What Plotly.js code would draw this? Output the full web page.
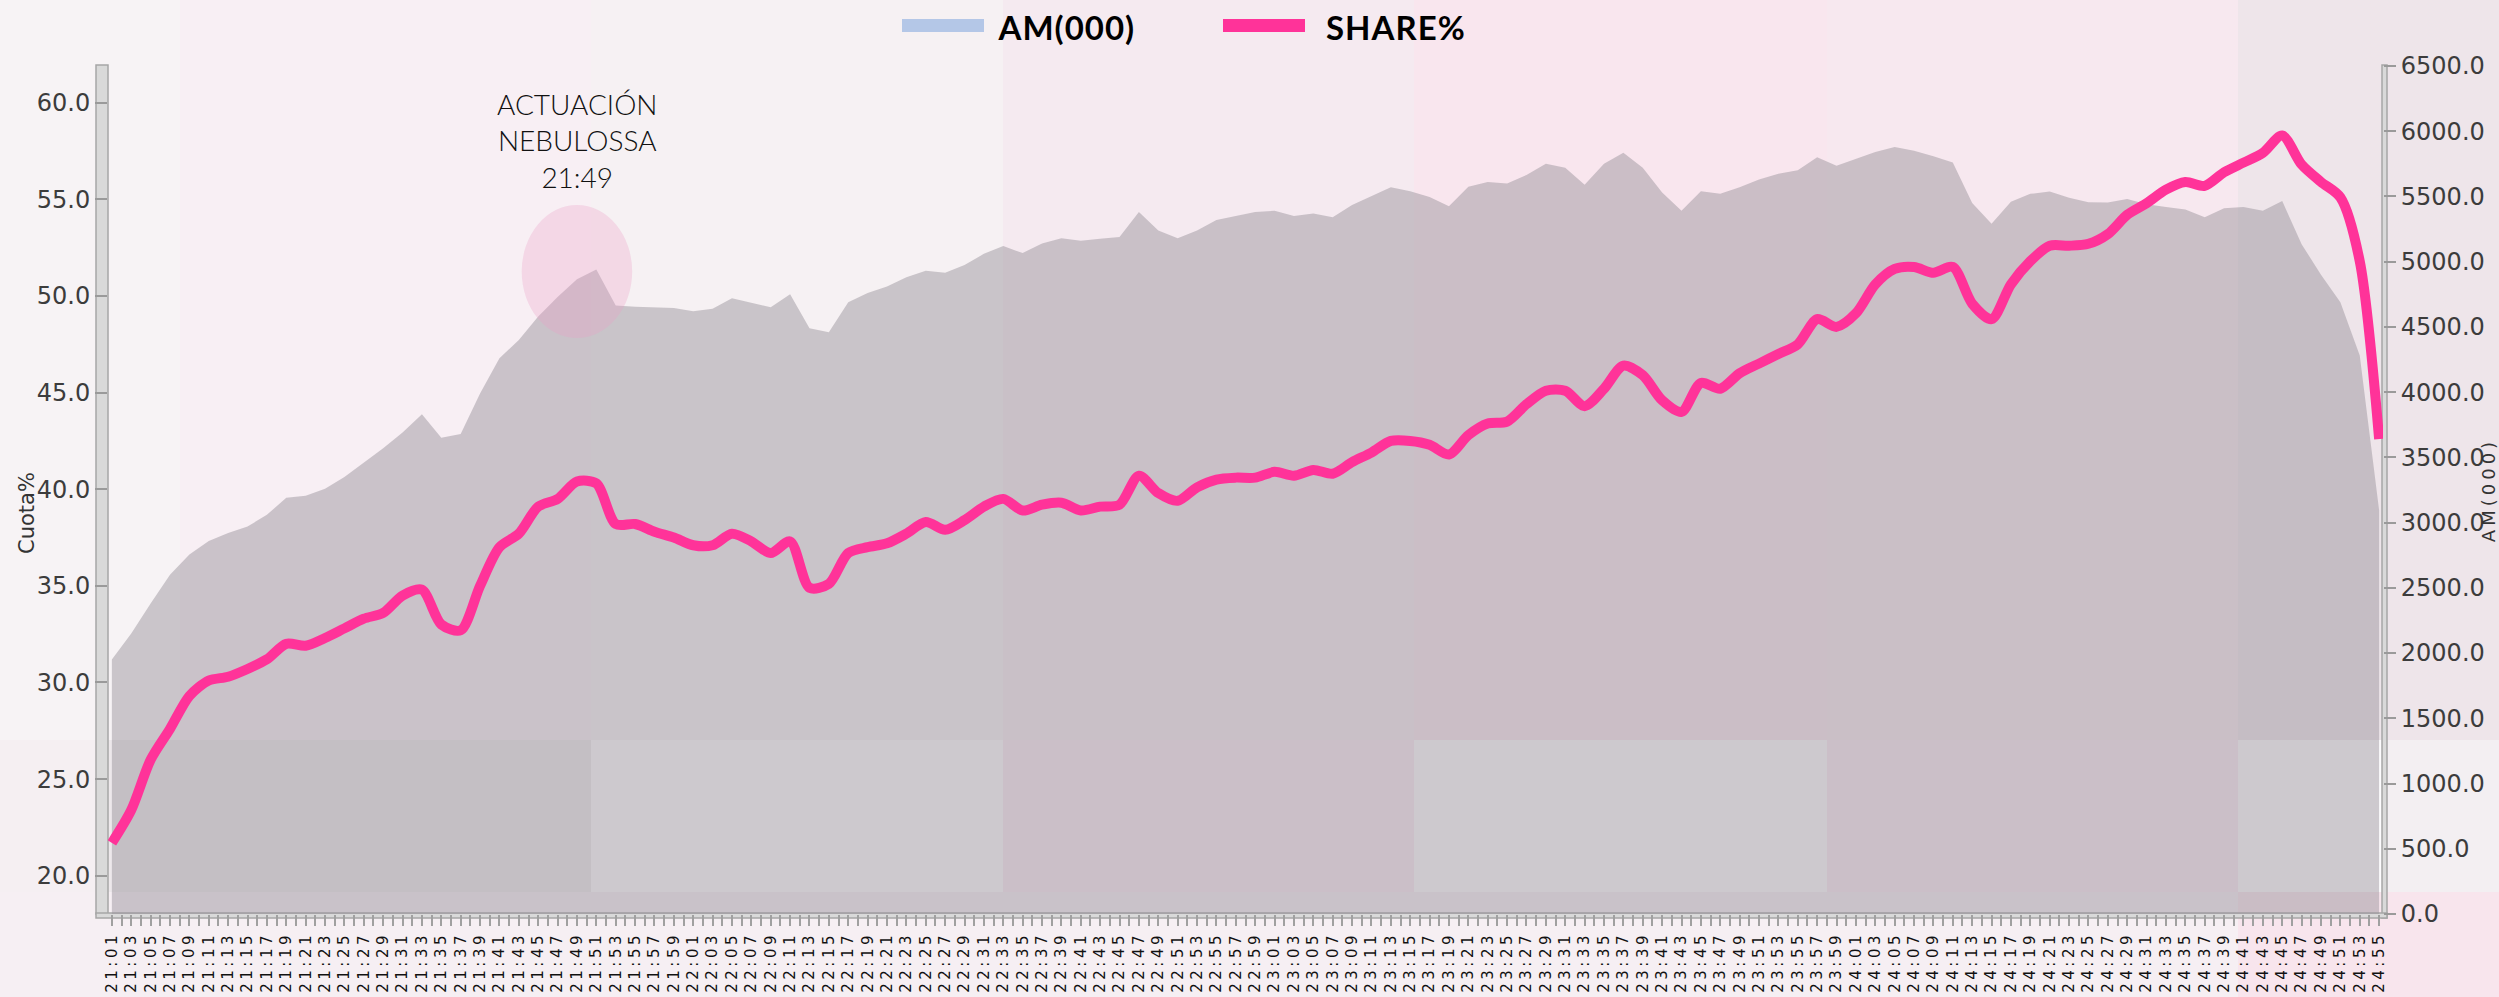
<!DOCTYPE html>
<html>
<head>
<meta charset="utf-8">
<script src="https://cdn.plot.ly/plotly-3.0.1.min.js"></script>
<style>
html,body{margin:0;padding:0;background:#f6eef2;overflow:hidden;}
#chart{width:2499px;height:997px;}
.xtick text{letter-spacing:3.5px;}
.g-ytitle text{letter-spacing:4px;}
.annotation[data-index="1"] text,.annotation[data-index="2"] text{letter-spacing:1px;}
</style>
</head>
<body>
<div id="chart"></div>
<script>
// ---- data ----
const times = [
'21:01','21:03','21:05','21:07','21:09','21:11','21:13','21:15','21:17','21:19','21:21','21:23','21:25','21:27','21:29',
'21:31','21:33','21:35','21:37','21:39','21:41','21:43','21:45','21:47','21:49','21:51','21:53','21:55','21:57','21:59',
'22:01','22:03','22:05','22:07','22:09','22:11','22:13','22:15','22:17','22:19','22:21','22:23','22:25','22:27','22:29',
'22:31','22:33','22:35','22:37','22:39','22:41','22:43','22:45','22:47','22:49','22:51','22:53','22:55','22:57','22:59',
'23:01','23:03','23:05','23:07','23:09','23:11','23:13','23:15','23:17','23:19','23:21','23:23','23:25','23:27','23:29',
'23:31','23:33','23:35','23:37','23:39','23:41','23:43','23:45','23:47','23:49','23:51','23:53','23:55','23:57','23:59',
'24:01','24:03','24:05','24:07','24:09','24:11','24:13','24:15','24:17','24:19','24:21','24:23','24:25','24:27','24:29',
'24:31','24:33','24:35','24:37','24:39','24:41','24:43','24:45','24:47','24:49','24:51','24:53','24:55'];

const share = [
21.7,23.4,26.0,27.6,29.3,30.1,30.3,30.7,31.2,32.0,31.9,32.3,32.8,33.3,33.6,
34.5,34.8,33.0,32.7,35.0,37.0,37.7,39.1,39.5,40.4,40.3,38.2,38.2,37.8,37.5,
37.1,37.1,37.7,37.3,36.7,37.3,34.9,35.1,36.7,37.0,37.2,37.7,38.3,37.9,38.4,
39.1,39.5,38.9,39.2,39.3,38.9,39.1,39.2,40.7,39.8,39.4,40.1,40.5,40.6,40.6,
40.9,40.7,41.0,40.8,41.4,41.9,42.5,42.5,42.3,41.8,42.8,43.4,43.5,44.4,45.1,
45.1,44.3,45.2,46.4,45.9,44.6,44.0,45.5,45.2,46.0,46.5,47.0,47.5,48.8,48.4,
49.1,50.6,51.4,51.5,51.2,51.5,49.6,48.8,50.6,51.8,52.6,52.6,52.7,53.2,54.2,
54.8,55.5,55.9,55.7,56.4,56.9,57.4,58.3,56.8,55.9,55.1,51.8,42.6];

const am = [
1950,2150,2380,2600,2755,2860,2920,2970,3060,3190,3205,3260,3350,3460,3570,
3690,3830,3650,3680,3990,4260,4400,4580,4730,4865,4940,4665,4655,4650,4646,
4620,4640,4720,4685,4650,4750,4490,4460,4690,4760,4810,4880,4930,4915,4975,
5060,5120,5066,5140,5180,5160,5175,5190,5380,5240,5180,5240,5320,5350,5380,
5390,5350,5370,5340,5435,5500,5570,5540,5495,5425,5575,5610,5600,5665,5750,
5720,5590,5750,5835,5721,5530,5390,5540,5520,5570,5630,5675,5700,5800,5735,
5790,5840,5880,5850,5808,5760,5450,5290,5460,5520,5538,5490,5455,5453,5480,
5440,5420,5400,5340,5410,5420,5390,5465,5134,4900,4690,4280,3095];

const seriesNames = ['AM(000)', 'SHARE%'];
const axisTitles = ['Cuota%', 'AM(000)'];
const leftTicks = [20, 25, 30, 35, 40, 45, 50, 55, 60];
const rightTicks = [0,500,1000,1500,2000,2500,3000,3500,4000,4500,5000,5500,6000,6500];
const noteText = ['ACTUACIÓN', 'NEBULOSSA', '21:49'];
const noteTime = '21:49';

// every minute is a tick; only the sampled (odd) minutes carry a label
const allMinutes = [];
for (let h = 21; h <= 24; h++) {
  for (let m = 0; m < 60; m++) {
    const t = h * 60 + m;
    if (t < 21 * 60 + 1 || t > 24 * 60 + 55) continue;
    allMinutes.push(h + ':' + String(m).padStart(2, '0'));
  }
}
const tickText = allMinutes.map(t => times.includes(t) ? t : '');

// ---- geometry helpers (page pixels -> paper) ----
const W = 2499, H = 997, L = 108, R = 2383, T = 66, B = 914;
const px = x => (x - L) / (R - L);
const py = y => (B - y) / (B - T);
function rect(x0, y0, x1, y1, fill, layer, line) {
  return {type: 'rect', xref: 'paper', yref: 'paper', x0: px(x0), x1: px(x1), y0: py(y1), y1: py(y0),
          fillcolor: fill, line: line || {width: 0}, layer: layer || 'below'};
}

// background tint tiles
const cols = [0, 180, 591, 1003, 1414, 1827, 2238, 2499];
const topTint = ['#f7f3f5', '#f8eff4', '#f6f1f3', '#f5eaf0', '#f9e6ee', '#f7e8ef', '#eee5ea'];
const shapes = [];
for (let k = 0; k < topTint.length; k++) shapes.push(rect(cols[k], 0, cols[k + 1], 740, topTint[k]));
shapes.push(rect(0, 740, 108, 892, '#f5eff2'));
shapes.push(rect(108, 740, 591, 892, '#ede8eb'));
shapes.push(rect(591, 740, 1003, 892, '#fdfcfe'));
shapes.push(rect(1003, 740, 1414, 892, '#fae8f1'));
shapes.push(rect(1414, 740, 1827, 892, '#fdfcfe'));
shapes.push(rect(1827, 740, 2238, 892, '#fae8f1'));
shapes.push(rect(2238, 740, 2383, 892, '#fdfcfe'));
shapes.push(rect(2383, 740, 2499, 892, '#f3eff2'));
shapes.push(rect(0, 892, 2238, 997, '#f6eff3'));
shapes.push(rect(2238, 892, 2499, 997, '#f8e5ed'));
// axis bars
const barLine = {width: 1.5, color: '#a6a6a6'};
shapes.push(rect(96, 65, 108, 914, '#d9d9d9', 'below', barLine));
shapes.push(rect(2382, 65, 2387, 918, '#d9d9d9', 'below', barLine));
shapes.push(rect(96, 913, 2387, 918, '#d9d9d9', 'below', barLine));
// legend swatches
shapes.push(rect(902, 19, 984, 32, '#b4c7e7', 'above'));
shapes.push(rect(1223, 19, 1305, 32, '#ff3399', 'above'));

// highlight ellipse around the 21:49 performance (AM axis)
const noteIdx = allMinutes.indexOf(noteTime);
const peakAM = am[times.indexOf(noteTime)];
shapes.push({type: 'circle', xref: 'x', yref: 'y', layer: 'above',
  x0: noteIdx - 5.7, x1: noteIdx + 5.7, y0: peakAM - 450, y1: peakAM + 570,
  fillcolor: 'rgba(235,160,200,0.30)', line: {width: 0}});

const tickFont = {family: 'DejaVu Sans', size: 24, color: '#3c3c3c'};

// AM on primary axis (right side), SHARE on overlaying axis (left side) so the line sits on top
const traces = [
  {x: times, y: am, name: seriesNames[0], yaxis: 'y', type: 'scatter', mode: 'lines',
   fill: 'tozeroy', fillcolor: 'rgba(150,145,152,0.47)', line: {width: 0, color: '#b4c7e7'},
   showlegend: false, hoverinfo: 'skip'},
  {x: times, y: share, name: seriesNames[1], yaxis: 'y2', type: 'scatter', mode: 'lines',
   line: {color: '#ff3399', width: 10, shape: 'spline', smoothing: 0.8},
   showlegend: false, hoverinfo: 'skip'}
];

const layout = {
  width: W, height: H,
  margin: {l: L, r: W - R, t: T, b: H - B, pad: 0},
  paper_bgcolor: '#f6eef2', plot_bgcolor: 'rgba(0,0,0,0)',
  showlegend: false,
  xaxis: {type: 'category', categoryorder: 'array', categoryarray: allMinutes,
    range: [-0.4, allMinutes.length - 1 + 0.4], tickmode: 'array', tickvals: allMinutes, ticktext: tickText,
    tickangle: -90, tickfont: {family: 'DejaVu Sans', size: 15, color: '#111'},
    ticks: 'outside', ticklen: 11, tickwidth: 2, tickcolor: '#a0a0a0',
    showgrid: false, zeroline: false, showline: false, automargin: false, fixedrange: true},
  yaxis: {range: [0, 6500], side: 'right', tickmode: 'array', tickvals: rightTicks,
    tickformat: '.1f', tickfont: tickFont, ticks: 'outside', ticklen: 12, tickwidth: 2, tickcolor: '#9a9a9a',
    showgrid: false, zeroline: false, showline: false, automargin: false,
    title: {text: axisTitles[1], font: {family: 'DejaVu Sans', size: 18, color: '#333'}, standoff: 0}},
  yaxis2: {range: [18.02, 61.9], overlaying: 'y', side: 'left', tickmode: 'array', tickvals: leftTicks,
    tickformat: '.1f', tickfont: tickFont, ticks: 'outside', ticklen: 12, tickwidth: 2, tickcolor: '#9a9a9a',
    showgrid: false, zeroline: false, showline: false, automargin: false},
  shapes: shapes,
  annotations: [
    {xref: 'x', yref: 'paper', x: noteIdx, y: py(140), text: noteText.join('<br>'), showarrow: false,
     xanchor: 'center', yanchor: 'middle', align: 'center',
     font: {family: 'Lato', size: 28, color: '#111', weight: 300}},
    {xref: 'paper', yref: 'paper', x: px(999), y: py(27), text: seriesNames[0], showarrow: false,
     xanchor: 'left', yanchor: 'middle', font: {family: 'Lato', size: 33, color: '#000', weight: 'bold'}},
    {xref: 'paper', yref: 'paper', x: px(1327), y: py(27), text: seriesNames[1], showarrow: false,
     xanchor: 'left', yanchor: 'middle', font: {family: 'Lato', size: 33, color: '#000', weight: 'bold'}},
    {xref: 'paper', yref: 'paper', x: px(27), y: py(513), text: axisTitles[0], showarrow: false,
     textangle: -90, xanchor: 'center', yanchor: 'middle',
     font: {family: 'DejaVu Sans', size: 21, color: '#333'}}
  ]
};

Plotly.newPlot('chart', traces, layout, {staticPlot: true, displayModeBar: false});
</script>
</body>
</html>
